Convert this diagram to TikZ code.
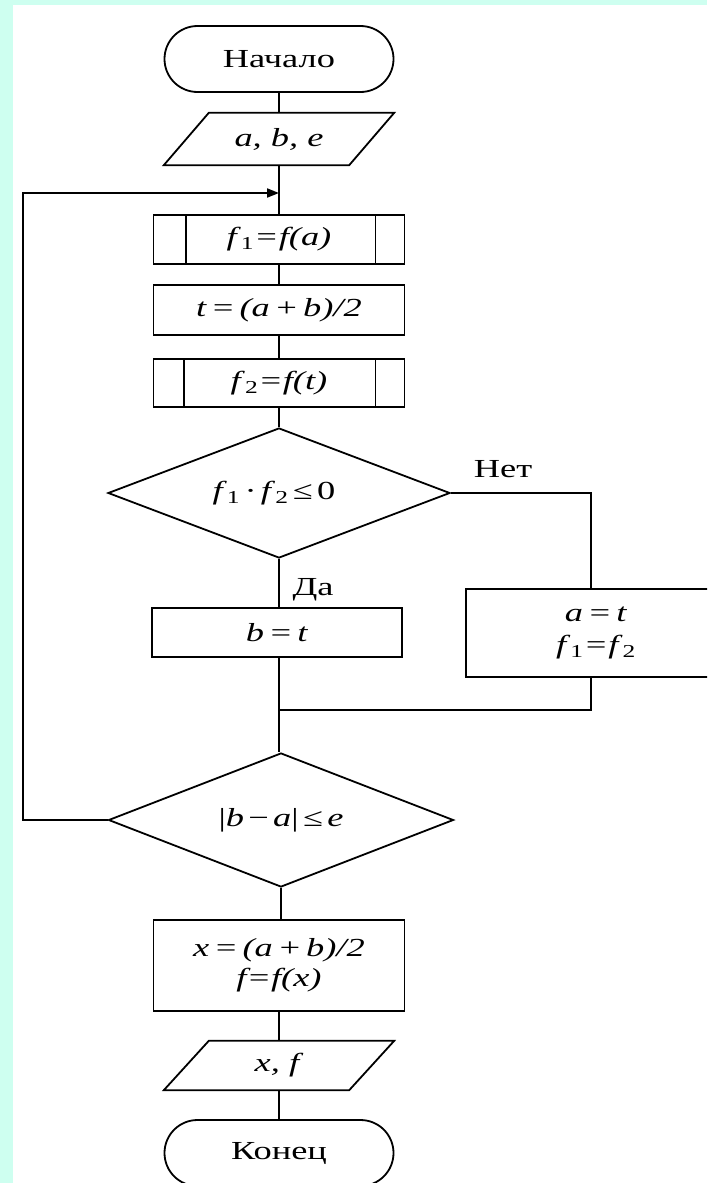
\documentclass[tikz,border=0pt]{standalone}
\usepackage{fontspec}
\setmainfont{Liberation Serif}[FakeStretch=1.4]
\usetikzlibrary{arrows.meta,shapes.geometric}
\definecolor{bgmint}{RGB}{206,255,240}
\tikzset{
  ln/.style={line width=1.8pt, draw=black},
  fc/.style={font=\fontsize{26}{30}\selectfont, align=center, inner sep=0pt},
  proc/.style={fc, ln, rectangle, minimum width=251pt},
  term/.style={fc, ln, rectangle, rounded corners=33pt, minimum width=229pt, minimum height=66pt},
  ghost/.style={fc, rectangle, minimum width=185pt, minimum height=52pt},
  dec/.style={fc, ln, diamond, aspect=2.6},
  lbl/.style={font=\fontsize{26}{30}\selectfont, inner sep=0pt},
  arr/.style={ln, -{Triangle[length=12pt,width=9pt]}}
}
\newcommand{\vi}[1]{\textit{#1}}
\begin{document}
\begin{tikzpicture}[x=1pt,y=-1pt]
\useasboundingbox (0,0) rectangle (707,1183);
\clip (0,0) rectangle (707,1183);
\fill[bgmint] (0,0) rectangle (707,1183);
\fill[white] (13,5) rectangle (707,1183);

% nodes
\node[term] (start) at (279,59) {Начало};
\node[ghost] (in) at (279,139) {\vi{a, b, e}};
\draw[ln] ([xshift=22.5pt]in.north west) -- ([xshift=22.5pt]in.north east)
  -- ([xshift=-22.5pt]in.south east) -- ([xshift=-22.5pt]in.south west) -- cycle;
\node[proc, minimum height=49pt] (s1) at (279,239.5) {\vi{f}\textsubscript{1}\vi{=f(a)}};
\draw[ln] ([xshift=33pt]s1.north west) -- ([xshift=33pt]s1.south west);
\draw[ln] ([xshift=-30pt]s1.north east) -- ([xshift=-30pt]s1.south east);
\node[proc, minimum height=50pt] (calc) at (279,310) {\vi{t\,=\,(a\,+\,b)/2}};
\node[proc, minimum height=48pt] (s2) at (279,383) {\vi{f}\textsubscript{2}\vi{=f(t)}};
\draw[ln] ([xshift=31pt]s2.north west) -- ([xshift=31pt]s2.south west);
\draw[ln] ([xshift=-30pt]s2.north east) -- ([xshift=-30pt]s2.south east);
\node[dec, minimum width=342pt, minimum height=130pt] (d1) at (279,493)
  {\vi{f}\textsubscript{1}\,·\,\vi{f}\textsubscript{2}\,≤\,0\hspace*{10pt}};
\node[proc, minimum width=250pt, minimum height=49pt] (bt) at (277,632.5) {\vi{b\,=\,t}};
\node[proc, minimum width=260pt, minimum height=88pt] (at) at (596,633)
  {\vi{a\,=\,t}\\[2pt] \vi{f}\textsubscript{1}\vi{=f}\textsubscript{2}};
\coordinate (join) at (279,710);
\node[dec, minimum width=345pt, minimum height=134pt] (d2) at (281,820)
  {|\vi{b}\,−\,\vi{a}|\,≤\,\vi{e}};
\node[proc, minimum height=91pt] (res) at (279,965.5)
  {\vi{x\,=\,(a\,+\,b)/2}\\ \vi{f=f(x)}};
\node[ghost, minimum height=49pt] (out) at (279,1065.5) {\vi{x, f}};
\draw[ln] ([xshift=22.5pt]out.north west) -- ([xshift=22.5pt]out.north east)
  -- ([xshift=-22.5pt]out.south east) -- ([xshift=-22.5pt]out.south west) -- cycle;
\node[term] (end) at (279,1153) {Конец};

\node[lbl] (no) at (503,469) {Нет};
\node[lbl] (yes) at (313,590) {Да};

% connectors
\draw[ln] (start.south) -- (in.north);
\draw[ln] (in.south) -- (s1.north);
\coordinate (loopin) at (279,193);
\coordinate (loopc) at (23,193);
\draw[ln] (s1.south) -- (calc.north);
\draw[ln] (calc.south) -- (s2.north);
\draw[ln] (s2.south) -- (d1.north);
\draw[ln] (d1.south) -- (d1.south |- bt.north);
\draw[ln] (d1.east) -| ([xshift=-5pt]at.north);
\draw[ln] (bt.south -| join) -- (join) -- (join |- d2.north);
\draw[ln] ([xshift=-5pt]at.south) |- (join);
\draw[arr] (d2.west) -| (loopc) -- (loopin);
\draw[ln] (d2.south) -- (d2.south |- res.north);
\draw[ln] (res.south) -- (out.north);
\draw[ln] (out.south) -- (end.north);
\end{tikzpicture}
\end{document}
